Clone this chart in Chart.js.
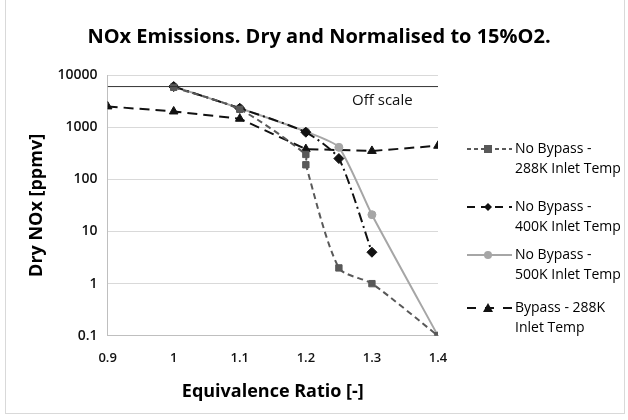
<!DOCTYPE html>
<html><head><meta charset="utf-8">
<script src="https://cdn.jsdelivr.net/npm/chart.js@4/dist/chart.umd.min.js"></script>
<style>
html,body{margin:0;padding:0;background:#fff;}
#wrap{position:relative;width:628px;height:420px;overflow:hidden;}
#frame{position:absolute;left:5px;top:0px;width:620px;height:414px;border:1px solid #d9d9d9;border-top:none;box-sizing:border-box;}
canvas{position:absolute;left:0;top:0;}
#title{position:absolute;left:0;top:22px;width:638px;text-align:center;font-family:'Open Sans',sans-serif;font-weight:bold;font-size:20px;color:#000;white-space:nowrap;}
.leg{position:absolute;left:467px;font-family:'Open Sans',sans-serif;font-size:14px;line-height:20px;color:#000;}
.leg svg{position:absolute;left:0;top:-6px;}
.leg span{position:absolute;left:48px;top:-11px;white-space:nowrap;}
</style></head>
<body><div id="wrap"><div id="frame"></div><canvas id="c" width="628" height="420"></canvas><div id="title">NOx Emissions. Dry and Normalised to 15%O2.</div><div id="legend"></div></div>
<script>
const xTicks = [0.9, 1.0, 1.1, 1.2, 1.3, 1.4];
const yTicks = [0.1, 1, 10, 100, 1000, 10000];
const offScaleValue = 6000;

const x288 = [1.0, 1.1, 1.2, 1.2, 1.25, 1.3, 1.4];
const y288 = [5800, 2200, 300, 190, 2, 1, 0.1];

const x400 = [1.0, 1.1, 1.2, 1.25, 1.3];
const y400 = [6000, 2300, 800, 250, 4];

const x500 = [1.0, 1.1, 1.2, 1.25, 1.3, 1.4];
const y500 = [6000, 2300, 820, 410, 21, 0.1];

const xBy = [0.9, 1.0, 1.1, 1.2, 1.3, 1.4];
const yBy = [2500, 2000, 1450, 380, 350, 440];

const seriesNames = ["No Bypass - 288K Inlet Temp","No Bypass - 400K Inlet Temp","No Bypass - 500K Inlet Temp","Bypass - 288K Inlet Temp"];
const legendLines = [["No Bypass -","288K Inlet Temp"],["No Bypass -","400K Inlet Temp"],["No Bypass -","500K Inlet Temp"],["Bypass - 288K","Inlet Temp"]];

const pts = (xs, ys) => xs.map((x, i) => ({x: x, y: ys[i]}));

const styles = [
  {color:'#595959', dash:[6,4], legDash:[4,3], point:'rect', r:4.5, tension:0.25},
  {color:'#111111', dash:[10,4,2,4], legDash:[8,6], point:'rectRot', r:5, tension:0.2},
  {color:'#a6a6a6', dash:[], legDash:[], point:'circle', r:4, tension:0.2},
  {color:'#111111', dash:[10,6], legDash:[9,9], point:'triangle', r:5, tension:0}
];
const datas = [pts(x288,y288), pts(x400,y400), pts(x500,y500), pts(xBy,yBy)];

const datasets = [{
  label:'off', data:[{x:xTicks[0],y:offScaleValue},{x:xTicks[xTicks.length-1],y:offScaleValue}],
  borderColor:'#333', borderWidth:1, pointRadius:0, tension:0
}];
datas.forEach((d,i)=>{
  const s = styles[i];
  datasets.push({label:seriesNames[i], data:d, borderColor:s.color, backgroundColor:s.color,
    borderWidth:2, borderDash:s.dash, pointStyle:s.point, pointRadius:s.r, pointBorderWidth:1,
    tension:s.tension});
});

const offLabel = {
  id:'offLabel',
  afterDatasetsDraw(chart){
    const {ctx, scales:{x,y}} = chart;
    ctx.save();
    ctx.font = '15px "Open Sans", sans-serif';
    ctx.fillStyle = '#111';
    ctx.textBaseline = 'middle';
    ctx.fillText('Off scale', x.getPixelForValue(1.27), y.getPixelForValue(offScaleValue) + 14);
    ctx.restore();
  }
};

new Chart(document.getElementById('c'), {
  type:'line',
  data:{datasets},
  plugins:[offLabel],
  options:{
    responsive:false, animation:false,
    layout:{padding:{left:26, right:190, top:75, bottom:17}},
    plugins:{ legend:{display:false}, tooltip:{enabled:false}, title:{display:false} },
    scales:{
      x:{type:'linear', min:xTicks[0], max:xTicks[xTicks.length-1],
        afterBuildTicks(ax){ ax.ticks = xTicks.map(v=>({value:v})); },
        ticks:{padding:15, color:'#111', font:{family:'"Open Sans", sans-serif', size:13, weight:'600'},
          callback:v=>String(Number(v.toFixed(1)))},
        grid:{display:false, drawTicks:false}, border:{color:'#bfbfbf'},
        title:{display:true, text:'Equivalence Ratio [-]', color:'#000', padding:{top:0, bottom:0},
          font:{family:'"Open Sans", sans-serif', size:18, weight:'bold'}}
      },
      y:{type:'logarithmic', min:yTicks[0], max:yTicks[yTicks.length-1],
        afterBuildTicks(ax){ ax.ticks = yTicks.map(v=>({value:v})); },
        ticks:{padding:10, color:'#111', font:{family:'"Open Sans", sans-serif', size:14, weight:'600'},
          callback:v=>String(v)},
        grid:{color:'#d9d9d9', drawTicks:false}, border:{color:'#bfbfbf'},
        title:{display:true, text:'Dry NOx [ppmv]', color:'#000', padding:{top:0, bottom:0},
          font:{family:'"Open Sans", sans-serif', size:18, weight:'bold'}}
      }
    }
  }
});

// HTML legend
const legTops = [149, 207, 255, 308];
const leg = document.getElementById('legend');
styles.forEach((s,i)=>{
  const d = document.createElement('div');
  d.className='leg'; d.style.top = legTops[i]+'px';
  let marker='';
  const cx=21, cy=6;
  if(s.point==='rect') marker=`<rect x="${cx-4}" y="${cy-4}" width="8" height="8" fill="${s.color}"/>`;
  if(s.point==='rectRot') marker=`<polygon points="${cx},${cy-4} ${cx+4},${cy} ${cx},${cy+4} ${cx-4},${cy}" fill="${s.color}"/>`;
  if(s.point==='circle') marker=`<circle cx="${cx}" cy="${cy}" r="4" fill="${s.color}"/>`;
  if(s.point==='triangle') marker=`<polygon points="${cx},${cy-5} ${cx+5},${cy+4} ${cx-5},${cy+4}" fill="${s.color}"/>`;
  d.innerHTML = `<svg width="46" height="12"><line x1="0" y1="${cy}" x2="45" y2="${cy}" stroke="${s.color}" stroke-width="2" stroke-dasharray="${s.legDash.join(',')}"/>${marker}</svg><span>${legendLines[i][0]}<br>${legendLines[i][1]}</span>`;
  leg.appendChild(d);
});
</script></body></html>
